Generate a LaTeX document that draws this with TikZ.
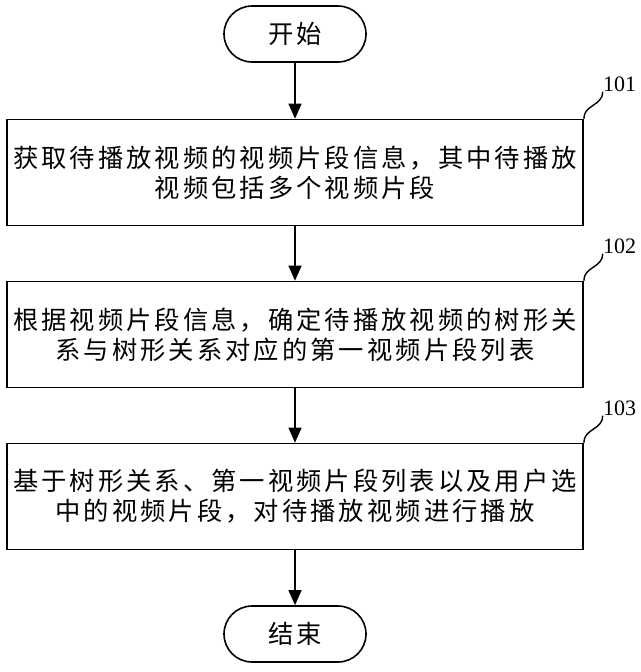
\documentclass[tikz,border=0pt]{standalone}
\usepackage{fontspec}
\setmainfont{Liberation Serif}
\newfontfamily\cjk[LetterSpace=12]{Noto Sans CJK SC}
\usetikzlibrary{shapes.geometric, arrows.meta, positioning}
\tikzstyle{startstop} = [rectangle, rounded corners=28pt, minimum width=142pt, minimum height=56pt, text centered, draw=black, line width=1.6pt, font=\cjk\fontsize{25.3}{30}\selectfont]
\tikzstyle{process} = [rectangle, text width=566pt, inner sep=5pt, minimum height=106pt, align=center, draw=black, line width=1.6pt, font=\cjk\fontsize{25.3}{30}\selectfont]
\tikzstyle{tag} = [inner sep=0pt, font=\fontsize{22}{24}\selectfont]
\tikzstyle{leader} = [line width=1.4pt]
\tikzstyle{arrow} = [line width=1.2pt, -{Triangle[length=15pt,width=13pt]}]

\begin{document}
\begin{tikzpicture}[node distance=162pt]
\useasboundingbox (0,0) rectangle (640pt,-672pt);
\node (start) [startstop] at (295pt,-34pt) {开始};
\node (pro1) [process, below of=start, yshift=23.5pt] {获取待播放视频的视频片段信息，其中待播放\\视频包括多个视频片段};
\node (pro2) [process, below of=pro1] {根据视频片段信息，确定待播放视频的树形关\\系与树形关系对应的第一视频片段列表};
\node (pro3) [process, below of=pro2] {基于树形关系、第一视频片段列表以及用户选\\中的视频片段，对待播放视频进行播放};
\node (stop) [startstop, below of=pro3, yshift=24.5pt] {结束};
% step numbers
\node (num1) [tag, above right=27pt and 19pt of pro1.north east] {101};
\node (num2) [tag, above right=27pt and 19pt of pro2.north east] {102};
\node (num3) [tag, above right=27pt and 19pt of pro3.north east] {103};
\draw [arrow] (start) -- (pro1);
\draw [arrow] (pro1) -- (pro2);
\draw [arrow] (pro2) -- (pro3);
\draw [arrow] (pro3) -- (stop);
\draw [leader] (pro1.north east) .. controls +(0,14pt) and +(0,-14pt) .. (num1.south west);
\draw [leader] (pro2.north east) .. controls +(0,14pt) and +(0,-14pt) .. (num2.south west);
\draw [leader] (pro3.north east) .. controls +(0,14pt) and +(0,-14pt) .. (num3.south west);
\end{tikzpicture}
\end{document}
